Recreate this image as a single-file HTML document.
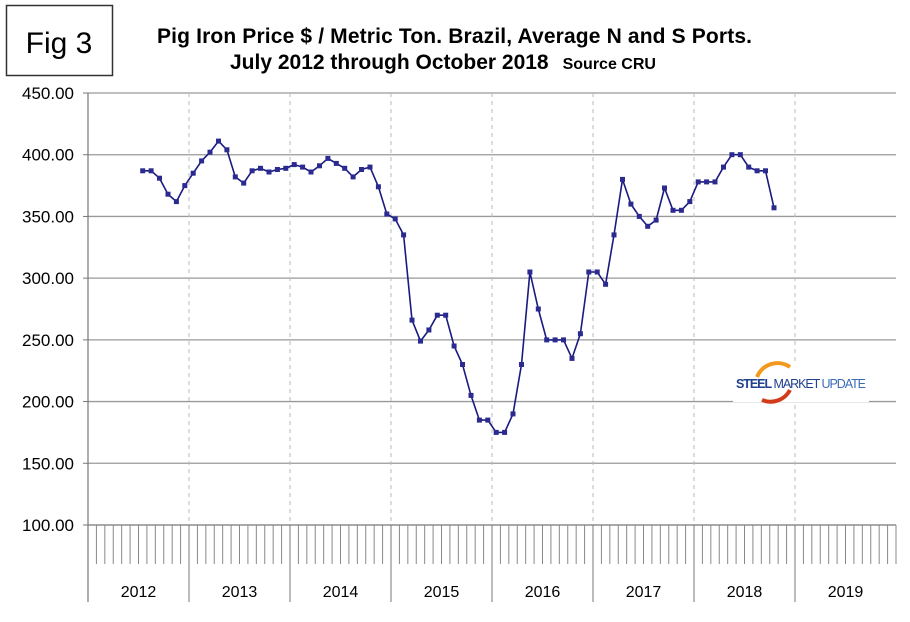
<!DOCTYPE html>
<html><head><meta charset="utf-8"><style>
html,body{margin:0;padding:0;background:#fff;}
svg{display:block;font-family:"Liberation Sans",Arial,sans-serif;}
</style></head><body>
<svg id="s" width="910" height="622" viewBox="0 0 910 622" xmlns="http://www.w3.org/2000/svg">
<rect x="6.5" y="5.5" width="106" height="70" fill="#fff" stroke="#333" stroke-width="1.5"/>
<text x="59" y="53" font-size="30" text-anchor="middle" fill="#000">Fig 3</text>
<text x="157" y="43" font-size="21" font-weight="bold" fill="#000" textLength="595">Pig Iron Price $ / Metric Ton. Brazil, Average N and S Ports.</text>
<text x="230" y="69" font-size="21" font-weight="bold" fill="#000">July 2012 through October 2018<tspan font-size="16" dx="14">Source CRU</tspan></text>
<g id="grid"></g>
<g id="data"></g>
</svg>
<script>
var NS="http://www.w3.org/2000/svg",g=document.getElementById('grid'),d=document.getElementById('data');
function el(p,t,a,txt){var e=document.createElementNS(NS,t);for(var k in a)e.setAttribute(k,a[k]);if(txt)e.textContent=txt;p.appendChild(e);return e;}
var L=88,R=896,T=93,B=525,yw=101,mw=yw/12;
function Y(v){return B-(v-100)*(B-T)/350;}
for(var v=100;v<=450;v+=50){var y=Y(v);
 if(v>100)el(g,'line',{x1:L,x2:R,y1:y,y2:y,stroke:'#999','stroke-width':1.3});
 el(g,'line',{x1:83,x2:L,y1:y,y2:y,stroke:'#777'});
 el(g,'text',{x:74,y:y+6,'font-size':17,'text-anchor':'end',fill:'#000'},v.toFixed(2));}
for(var i=1;i<8;i++){var x=L+i*yw;el(g,'line',{x1:x,x2:x,y1:T,y2:B,stroke:'#bbb','stroke-dasharray':'4,4'});}
el(g,'line',{x1:L,x2:L,y1:T,y2:602,stroke:'#777','stroke-width':1.2});
el(g,'line',{x1:L,x2:R,y1:B,y2:B,stroke:'#777','stroke-width':1.2});
for(var m=1;m<96;m++){var x=L+m*mw;if(m%12==0)el(g,'line',{x1:x,x2:x,y1:B,y2:602,stroke:'#777'});else el(g,'line',{x1:x,x2:x,y1:B,y2:564,stroke:'#888'});}
el(g,'line',{x1:R,x2:R,y1:B,y2:564,stroke:'#888'});
for(var i=0;i<8;i++)el(g,'text',{x:L+i*yw+yw/2,y:597,'font-size':16,'text-anchor':'middle',fill:'#000'},2012+i);
var vals=[387,387,381,368,362,375,
385,395,402,411,404,382,377,387,389,386,388,389,
392,390,386,391,397,393,389,382,388,390,374,352,
348,335,266,249,258,270,270,245,230,205,185,185,
175,175,190,230,305,275,250,250,250,235,255,305,
305,295,335,380,360,350,342,347,373,355,355,362,
378,378,378,390,400,400,390,387,387,357];
var pts=[];for(var i=0;i<vals.length;i++){var x=L+(6+i+0.5)*mw,y=Y(vals[i]);pts.push(x.toFixed(1)+','+y.toFixed(1));}
el(d,'polyline',{points:pts.join(' '),fill:'none',stroke:'#1a1a80','stroke-width':1.6});
pts.forEach(function(p){var a=p.split(',');el(d,'rect',{x:a[0]-2.5,y:a[1]-2.5,width:5,height:5,fill:'#2a2a90'});});
el(d,'rect',{x:733,y:364,width:136,height:38,fill:'#fff'});
el(d,'path',{d:'M757 377 A22 22 0 0 1 790 367',stroke:'#f39a1e','stroke-width':4,fill:'none'});
el(d,'path',{d:'M790 390 A22 22 0 0 1 762 400',stroke:'#d33a1a','stroke-width':4,fill:'none'});
var t=el(d,'text',{x:736,y:388,'font-size':12.5,fill:'#1f3f8f',textLength:130});
t.innerHTML='<tspan font-weight="bold">STEEL</tspan> MARKET <tspan fill="#3a6bb8">UPDATE</tspan>';
</script>
</body></html>
